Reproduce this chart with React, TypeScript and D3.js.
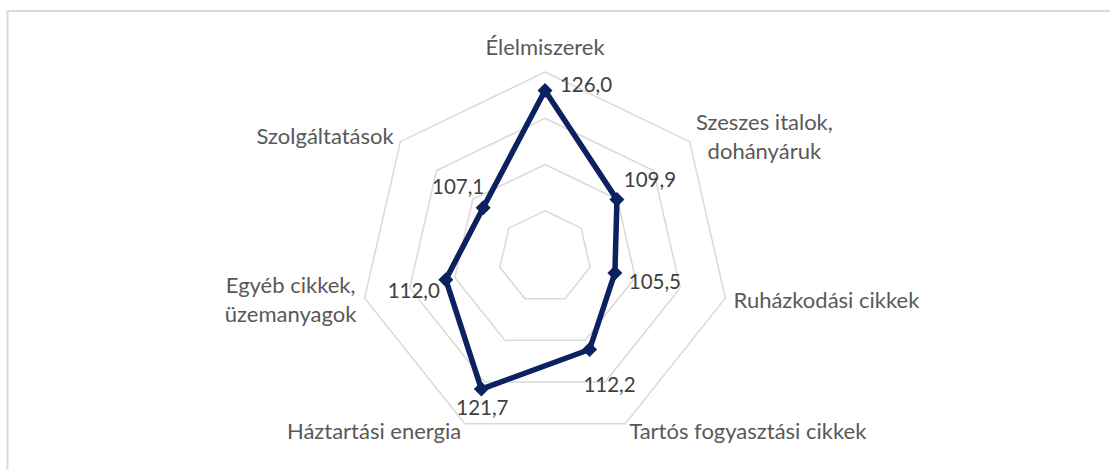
import React, { useEffect, useRef } from 'react'
import * as d3 from 'd3'

const categories = [
	'Élelmiszerek',
	'Szeszes italok, dohányáruk',
	'Ruházkodási cikkek',
	'Tartós fogyasztási cikkek',
	'Háztartási energia',
	'Egyéb cikkek, üzemanyagok',
	'Szolgáltatások',
]
const values = [126.0, 109.9, 105.5, 112.2, 121.7, 112.0, 107.1]
const ringTicks = [100, 110, 120, 130]
const axisMin = 90
const axisMax = 130

const width = 1110
const height = 470
const cx = 545
const cy = 257
const radius = 185
const font = 'Lato, "Open Sans", sans-serif'
// where Excel parked each data label, relative to its marker
const valueLabelShift = [
	[41, -6],
	[33, -20],
	[40, 9],
	[20, 35],
	[1, 19],
	[-32, 11],
	[-25, -21],
]

export default function App() {
	const ref = useRef<SVGSVGElement>(null)

	useEffect(() => {
		const svg = d3.select(ref.current)
		svg.selectAll('*').remove()

		const r = d3.scaleLinear().domain([axisMin, axisMax]).range([0, radius])
		const angle = d3
			.scaleLinear()
			.domain([0, categories.length])
			.range([0, 2 * Math.PI])
		const px = (i: number, v: number) => cx + r(v) * Math.sin(angle(i))
		const py = (i: number, v: number) => cy - r(v) * Math.cos(angle(i))

		// chart area border (only top/left visible)
		svg
			.append('rect')
			.attr('x', 7.5)
			.attr('y', 11)
			.attr('width', width + 20)
			.attr('height', height + 20)
			.attr('fill', 'white')
			.attr('stroke', '#d9d9d9')
			.attr('stroke-width', 2)

		const line = d3
			.line<number>()
			.x((v, i) => px(i, v))
			.y((v, i) => py(i, v))
			.curve(d3.curveLinearClosed)

		const grid = svg.append('g')
		ringTicks.forEach(t => {
			grid
				.append('path')
				.attr('d', line(categories.map(() => t)))
				.attr('fill', 'none')
				.attr('stroke', '#d9d9d9')
				.attr('stroke-width', 1.5)
		})

		// category labels
		const gap = 8
		categories.forEach((c, i) => {
			const ux = Math.sin(angle(i))
			const uy = -Math.cos(angle(i))
			const vx = px(i, axisMax)
			const vy = py(i, axisMax)
			const lines = c.includes(', ') ? c.replace(', ', ',\n').split('\n') : [c]
			const lh = 29
			const g = svg.append('g')
			const txt = g
				.append('text')
				.attr('font-family', font)
				.attr('font-size', 22)
				.attr('fill', '#595959')
				.attr('text-anchor', 'middle')
			lines.forEach((l, k) => {
				txt
					.append('tspan')
					.attr('x', 0)
					.attr('y', (k - (lines.length - 1) / 2) * lh)
					.attr('dy', '0.35em')
					.text(l)
			})
			const w = (txt.node() as SVGTextElement).getBBox().width
			let tx = vx
			let ty = vy + uy * gap
			if (Math.abs(ux) < 0.1) {
				ty = vy - gap - 17
			} else if (ux > 0) {
				tx = vx + ux * gap + w / 2
			} else {
				tx = vx + ux * gap - w / 2
			}
			g.attr('transform', `translate(${tx},${ty})`)
		})

		// series
		svg
			.append('path')
			.attr('d', line(values))
			.attr('fill', 'none')
			.attr('stroke', '#0b2160')
			.attr('stroke-width', 5.5)
			.attr('stroke-linejoin', 'round')

		svg
			.append('g')
			.selectAll('path')
			.data(values)
			.join('path')
			.attr('d', 'M0,-7.5L7.5,0L0,7.5L-7.5,0Z')
			.attr('transform', (v, i) => `translate(${px(i, v)},${py(i, v)})`)
			.attr('fill', '#0b2160')

		svg
			.append('g')
			.selectAll('text')
			.data(values)
			.join('text')
			.attr('x', (v, i) => px(i, v) + valueLabelShift[i][0])
			.attr('y', (v, i) => py(i, v) + valueLabelShift[i][1])
			.attr('dy', '0.35em')
			.attr('text-anchor', 'middle')
			.attr('font-family', font)
			.attr('font-size', 20.5)
			.attr('fill', '#404040')
			.text(v => d3.format('.1f')(v).replace('.', ','))
	}, [])

	return (
		<svg
			ref={ref}
			width={width}
			height={height}
			style={{ position: 'absolute', left: 0, top: 0 }}
		/>
	)
}
